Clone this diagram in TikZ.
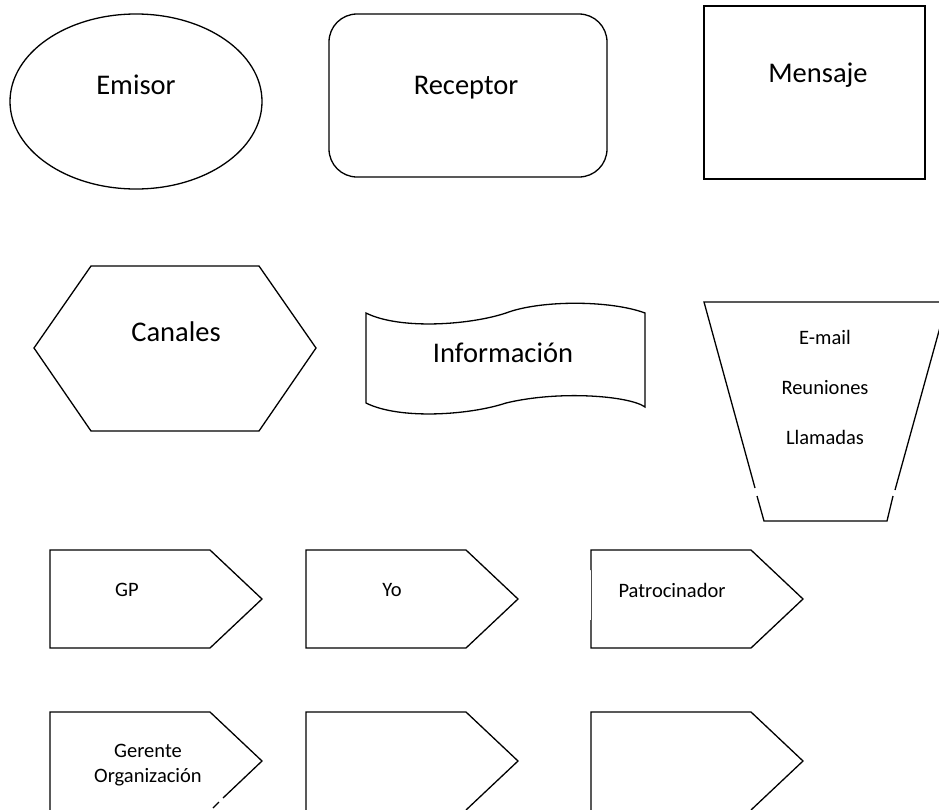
\documentclass[tikz,border=0pt]{standalone}
\usepackage{fontspec}
\setmainfont{Carlito}
\usetikzlibrary{shapes.geometric}
\begin{document}
\begin{tikzpicture}[x=1pt,y=-1pt,
  shp/.style={draw=black, line width=1.3pt, line join=miter},
  thin edge/.style={draw=black!70, line width=0.5pt},
  big/.style={font=\fontsize{28.5}{34}\selectfont, inner sep=0pt, anchor=base},
  small/.style={font=\fontsize{20.5}{25}\selectfont, inner sep=0pt, anchor=base},
]
\useasboundingbox (0,0) rectangle (939,809);

% --- first row: ellipse, rounded box, plain box
\node[shp, ellipse, minimum width=252pt, minimum height=175pt, inner sep=0pt]
  (emisor) at (136,101.5) {};
\node[big] (emisor-t) at (136,94) {Emisor};

\node[shp, rectangle, rounded corners=28pt, minimum width=278pt, minimum height=163pt, inner sep=0pt]
  (receptor) at (468,95.5) {};
\node[big] (receptor-t) at (466,94) {Receptor};

\node[shp, rectangle, minimum width=221pt, minimum height=173pt, inner sep=0pt]
  (mensaje) at (814.5,92.5) {};
\node[big] (mensaje-t) at (818,82) {Mensaje};

% --- second row: hexagon, wavy banner, funnel
\draw[shp] (34,348) -- (91,266) -- (259,266) -- (316,348) -- (259,431) -- (91,431) -- cycle;
\node[big] (canales-t) at (176,341) {Canales};

\draw[shp] (366,313) .. controls (400,330) and (470,325) .. (506,313)
  .. controls (540,300) and (610,300) .. (645,313) -- (645,407)
  .. controls (630,396) and (560,390) .. (506,403)
  .. controls (470,415) and (400,420) .. (366,403) -- cycle;
\node[big] (info-t) at (503,362.5) {Información};

\draw[shp] (755,488) -- (704,302) -- (947,302) -- (895,490);
\draw[shp] (757,496) -- (764,521) -- (887,521) -- (893,496);
\node[small] (email-t) at (825,344) {E-mail};
\node[small] (reun-t) at (825,394) {Reuniones};
\node[small] (llam-t) at (825,444) {Llamadas};

% --- third row: pentagon tags
\draw[shp] (50,550) -- (210,550) -- (262,599) -- (210,648) -- (50,648) -- cycle;
\node[small] (gp-t) at (127,596) {GP};

\draw[shp] (306,550) -- (466,550) -- (518,599) -- (466,648) -- (306,648) -- cycle;
\node[small] (yo-t) at (392,596) {Yo};

\draw[shp] (591,570) -- (591,550) -- (751,550) -- (803,599) -- (751,648) -- (591,648) -- (591,620);
\draw[thin edge] (591,570) -- (591,620);
\node[small] (patro-t) at (672,597) {Patrocinador};

% --- fourth row: pentagon tags running off the bottom edge
\draw[shp] (50,812) -- (50,712) -- (210,712) -- (262,761) -- (223,798);
\draw[shp] (219,802) -- (213,808);
\node[small] (ger-t) at (148,757) {Gerente};
\node[small] (org-t) at (148,782) {Organización};

\draw[shp] (306,812) -- (306,712) -- (466,712) -- (518,761) -- (466,810);
\draw[shp] (591,812) -- (591,712) -- (751,712) -- (803,761) -- (751,810);
\end{tikzpicture}
\end{document}
